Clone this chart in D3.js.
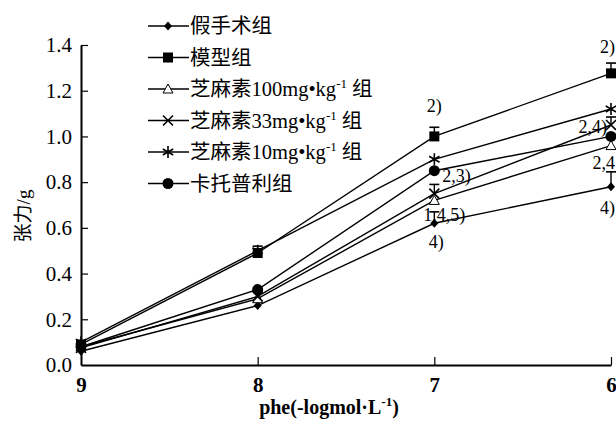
<!DOCTYPE html>
<html><head><meta charset="utf-8">
<script src="https://cdn.jsdelivr.net/npm/d3@7"></script>
<style>body{margin:0;background:#fff;} svg{display:block;overflow:visible}
.sf{font-family:"Liberation Serif","Noto Sans CJK SC",serif;}
</style>
</head><body>
<svg id="c" width="616" height="421"></svg>
<script>
// ---- data ----
const xCats = [9, 8, 7, 6];
const yTicks = [0.0, 0.2, 0.4, 0.6, 0.8, 1.0, 1.2, 1.4];
const seriesNames = ["假手术组", "模型组", "芝麻素100mg•kg", "芝麻素33mg•kg", "芝麻素10mg•kg", "卡托普利组"];
const sham   = [0.06, 0.26, 0.62, 0.78];
const model  = [0.09, 0.49, 1.00, 1.276];
const ses100 = [0.08, 0.29, 0.72, 0.96];
const ses33  = [0.075, 0.30, 0.75, 1.05];
const ses10  = [0.10, 0.50, 0.90, 1.12];
const capto  = [0.08, 0.33, 0.85, 1.00];
const shamErr  = [0, 0, 0.05, 0.065];
const modelErr = [0, 0.03, 0.04, 0.045];
const ses33Err = [0, 0, 0.04, 0.035];
const annotations = [
  {s: 1, i: 2, text: "2)"}, {s: 5, i: 2, text: "2,3)"}, {s: 0, i: 2, text: "1,4,5)"},
  {s: 0, i: 2, text: "4)"}, {s: 1, i: 3, text: "2)"}, {s: 3, i: 3, text: "2,4)"},
  {s: 0, i: 3, text: "2,4"}, {s: 0, i: 3, text: "4)"}
];
// ---- layout (positions/styles) ----
const annLayout = [
  {dx: 0, dy: -24, anchor: "middle"}, {dx: 8, dy: 11, anchor: "start"}, {dx: 10, dy: -2, anchor: "middle"},
  {dx: 2, dy: 25, anchor: "middle"}, {dx: 4, dy: -20, anchor: "end"}, {dx: -4, dy: 8, anchor: "end"},
  {dx: 4, dy: -18, anchor: "end"}, {dx: 4, dy: 27, anchor: "end"}
];
const markers = ["diamond", "square", "triangle", "cross", "star", "circle"];
const allSeries = [sham, model, ses100, ses33, ses10, capto];
const errs = [shamErr, modelErr, null, ses33Err, null, null];

const svg = d3.select("#c");
const x = d3.scalePoint().domain(xCats).range([81, 611]);
const y = d3.scaleLinear().domain([0, 1.4]).range([365, 45]);

// axes
const gx = svg.append("g").attr("transform", "translate(0,365)")
  .call(d3.axisBottom(x).tickSizeInner(-8).tickSizeOuter(0).tickPadding(12));
gx.attr("font-family", null).attr("font-size", null);
gx.select(".domain").attr("stroke-width", 2);
gx.selectAll(".tick line").attr("stroke-width", 1.2);
gx.selectAll(".tick").filter(d => d === 9).select("line").remove();
gx.selectAll(".tick text").attr("class", "sf").style("font-size", "21px").style("font-weight", "bold").attr("fill", "#000");

const gy = svg.append("g").attr("transform", "translate(81,0)")
  .call(d3.axisLeft(y).tickValues(yTicks).tickFormat(d3.format(".1f")).tickSizeInner(-7).tickSizeOuter(0).tickPadding(9));
gy.attr("font-family", null).attr("font-size", null);
gy.select(".domain").attr("stroke-width", 2);
gy.selectAll(".tick line").attr("stroke-width", 1.2);
gy.selectAll(".tick").filter(d => d === 0).select("line").remove();
gy.selectAll(".tick text").attr("class", "sf").style("font-size", "21px").attr("fill", "#000");

// titles
const xt = svg.append("text").attr("class", "sf").attr("x", 329).attr("y", 414).attr("text-anchor", "middle")
  .style("font-size", "20px").style("font-weight", "bold");
xt.append("tspan").text("phe(-logmol·L");
xt.append("tspan").attr("dy", -8).style("font-size", "13px").text("-1");
xt.append("tspan").attr("dy", 8).text(")");
svg.append("text").attr("class", "sf").attr("transform", "translate(30,216) rotate(-90)").attr("text-anchor", "middle")
  .style("font-size", "19px").text("张力/g");

// marker drawer
function drawMarker(g, type, cx, cy) {
  const s = g.append("g").attr("transform", `translate(${cx},${cy})`);
  if (type === "diamond") s.append("path").attr("d", "M0,-4.5L4,0L0,4.5L-4,0Z").attr("fill", "#000");
  else if (type === "square") s.append("rect").attr("x", -5).attr("y", -5).attr("width", 10).attr("height", 10).attr("fill", "#000");
  else if (type === "triangle") s.append("path").attr("d", "M0,-5L5,4L-5,4Z").attr("fill", "#fff").attr("stroke", "#000").attr("stroke-width", 1);
  else if (type === "cross") s.append("path").attr("d", "M-5,-5L5,5M-5,5L5,-5").attr("stroke", "#000").attr("stroke-width", 1.6);
  else if (type === "star") s.append("path").attr("d", "M0,-6V6M-5.2,-3L5.2,3M-5.2,3L5.2,-3").attr("stroke", "#000").attr("stroke-width", 1.6);
  else if (type === "circle") s.append("circle").attr("r", 5.5).attr("fill", "#000");
}

const line = d3.line().x((d, i) => x(xCats[i])).y(d => y(d));
allSeries.forEach((vals, k) => {
  svg.append("path").attr("d", line(vals)).attr("fill", "none").attr("stroke", "#000").attr("stroke-width", 1.4);
});
// error bars
allSeries.forEach((vals, k) => {
  const e = errs[k]; if (!e) return;
  vals.forEach((v, i) => {
    if (!e[i]) return;
    const cx = x(xCats[i]), y0 = y(v), y1 = y(v + e[i]);
    svg.append("line").attr("x1", cx).attr("x2", cx).attr("y1", y0).attr("y2", y1).attr("stroke", "#000").attr("stroke-width", 1.4);
    svg.append("line").attr("x1", cx - 5).attr("x2", cx + 5).attr("y1", y1).attr("y2", y1).attr("stroke", "#000").attr("stroke-width", 1.6);
  });
});
allSeries.forEach((vals, k) => {
  vals.forEach((v, i) => drawMarker(svg, markers[k], x(xCats[i]), y(v)));
});

// annotations
annotations.forEach((a, j) => {
  const L = annLayout[j];
  svg.append("text").attr("class", "sf").attr("x", x(xCats[a.i]) + L.dx).attr("y", y(allSeries[a.s][a.i]) + L.dy)
    .attr("text-anchor", L.anchor).style("font-size", "18px").text(a.text);
});

// legend
seriesNames.forEach((nm, k) => {
  const cy = 26 + k * 31.5;
  svg.append("line").attr("x1", 148).attr("x2", 189).attr("y1", cy).attr("y2", cy).attr("stroke", "#000").attr("stroke-width", 1.4);
  drawMarker(svg, markers[k], 168, cy);
  const t = svg.append("text").attr("class", "sf").attr("x", 190).attr("y", cy + 7).style("font-size", "20.5px");
  t.append("tspan").text(nm);
  if (k >= 2 && k <= 4) {
    t.append("tspan").attr("dy", -8).style("font-size", "13px").text("-1");
    t.append("tspan").attr("dy", 8).text(" 组");
  }
});
</script>
</body></html>
